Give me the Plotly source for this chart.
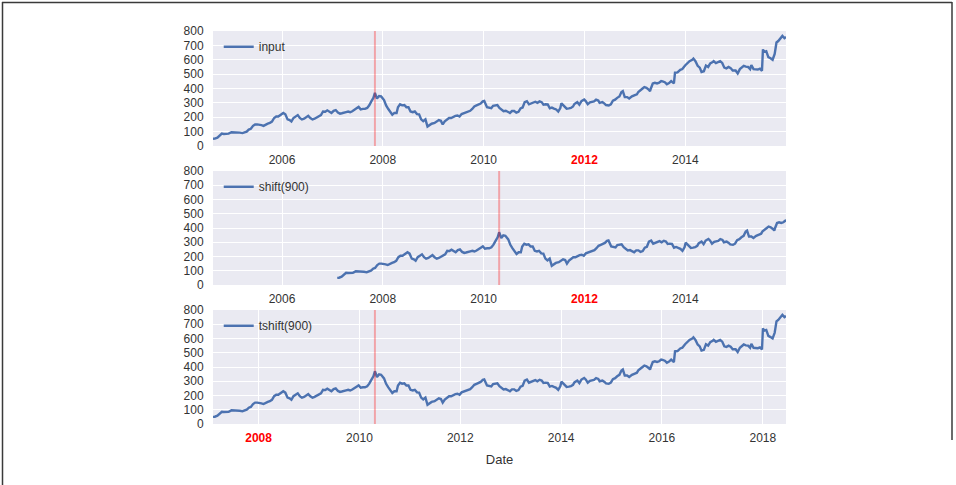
import pandas as pd
import plotly.graph_objects as go

# ---------------- data ----------------
dates = [
    "2004-08-19", "2004-09-01", "2004-09-20", "2004-10-05", "2004-10-22", "2004-11-05", "2004-11-22",
    "2004-12-10", "2004-12-31", "2005-01-15", "2005-02-01", "2005-02-15", "2005-03-01", "2005-03-20",
    "2005-04-05", "2005-04-20", "2005-05-05", "2005-05-20", "2005-06-05", "2005-06-20", "2005-07-05",
    "2005-07-20", "2005-08-05", "2005-08-20", "2005-09-05", "2005-09-20", "2005-10-05", "2005-10-20",
    "2005-11-05", "2005-11-20", "2005-12-05", "2005-12-20", "2006-01-10", "2006-01-25", "2006-02-10",
    "2006-02-25", "2006-03-10", "2006-03-25", "2006-04-10", "2006-04-25", "2006-05-10", "2006-05-25",
    "2006-06-10", "2006-06-25", "2006-07-10", "2006-07-25", "2006-08-10", "2006-08-25", "2006-09-10",
    "2006-09-25", "2006-10-10", "2006-10-25", "2006-11-10", "2006-11-25", "2006-12-10", "2006-12-25",
    "2007-01-10", "2007-01-25", "2007-02-10", "2007-02-25", "2007-03-10", "2007-03-25", "2007-04-10",
    "2007-04-25", "2007-05-10", "2007-05-25", "2007-06-10", "2007-06-25", "2007-07-10", "2007-07-25",
    "2007-08-10", "2007-08-25", "2007-09-10", "2007-09-25", "2007-10-10", "2007-10-25", "2007-11-05",
    "2007-11-20", "2007-12-05", "2007-12-20", "2008-01-10", "2008-01-25", "2008-02-10", "2008-02-25",
    "2008-03-10", "2008-03-25", "2008-04-10", "2008-04-20", "2008-05-05", "2008-05-20", "2008-06-05",
    "2008-06-20", "2008-07-05", "2008-07-20", "2008-08-05", "2008-08-20", "2008-09-05", "2008-09-20",
    "2008-10-05", "2008-10-20", "2008-11-05", "2008-11-20", "2008-12-05", "2008-12-20", "2009-01-10",
    "2009-01-25", "2009-02-10", "2009-02-25", "2009-03-10", "2009-03-25", "2009-04-10", "2009-04-25",
    "2009-05-10", "2009-05-25", "2009-06-10", "2009-06-25", "2009-07-10", "2009-07-25", "2009-08-10",
    "2009-08-25", "2009-09-10", "2009-09-25", "2009-10-10", "2009-10-25", "2009-11-10", "2009-11-25",
    "2009-12-10", "2009-12-25", "2010-01-05", "2010-01-25", "2010-02-10", "2010-02-25", "2010-03-10",
    "2010-03-25", "2010-04-10", "2010-04-25", "2010-05-10", "2010-05-25", "2010-06-10", "2010-06-25",
    "2010-07-10", "2010-07-25", "2010-08-10", "2010-08-25", "2010-09-10", "2010-09-25", "2010-10-10",
    "2010-10-25", "2010-11-10", "2010-11-25", "2010-12-10", "2010-12-25", "2011-01-10", "2011-01-25",
    "2011-02-10", "2011-02-25", "2011-03-10", "2011-03-25", "2011-04-10", "2011-04-25", "2011-05-10",
    "2011-05-25", "2011-06-10", "2011-06-25", "2011-07-10", "2011-07-18", "2011-08-05", "2011-08-15",
    "2011-08-25", "2011-09-10", "2011-09-25", "2011-10-10", "2011-10-20", "2011-11-10", "2011-11-25",
    "2011-12-10", "2011-12-30", "2012-01-10", "2012-01-25", "2012-02-10", "2012-02-25", "2012-03-10",
    "2012-03-25", "2012-04-10", "2012-04-20", "2012-05-10", "2012-05-25", "2012-06-05", "2012-06-25",
    "2012-07-10", "2012-07-25", "2012-08-10", "2012-08-25", "2012-09-10", "2012-09-25", "2012-10-05",
    "2012-10-19", "2012-11-05", "2012-11-20", "2012-12-10", "2012-12-31", "2013-01-15", "2013-01-25",
    "2013-02-10", "2013-02-25", "2013-03-10", "2013-03-25", "2013-04-10", "2013-04-20", "2013-04-26",
    "2013-05-10", "2013-05-25", "2013-06-10", "2013-06-25", "2013-07-10", "2013-07-20", "2013-08-05",
    "2013-08-20", "2013-09-05", "2013-09-20", "2013-10-10", "2013-10-18", "2013-11-05", "2013-11-25",
    "2013-12-10", "2013-12-30", "2014-01-15", "2014-01-31", "2014-02-20", "2014-02-28", "2014-03-15",
    "2014-03-31", "2014-04-15", "2014-04-28", "2014-05-15", "2014-05-30", "2014-06-15", "2014-06-30",
    "2014-07-15", "2014-07-25", "2014-08-10", "2014-08-25", "2014-09-10", "2014-09-25", "2014-10-10",
    "2014-10-25", "2014-11-10", "2014-11-25", "2014-12-10", "2014-12-31", "2015-01-15", "2015-01-31",
    "2015-02-15", "2015-02-28", "2015-03-15", "2015-03-31", "2015-04-15", "2015-04-24", "2015-05-10",
    "2015-05-25", "2015-06-10", "2015-06-25", "2015-07-10", "2015-07-17", "2015-07-25", "2015-08-10",
    "2015-08-25", "2015-09-10", "2015-09-25", "2015-10-10", "2015-10-23", "2015-11-05", "2015-11-20",
    "2015-12-05", "2015-12-20", "2015-12-31",
]
close = [
    50, 51, 58, 69, 86, 84, 84,
    86, 96, 96, 95, 95, 93, 90,
    95, 100, 114, 120, 140, 150, 150,
    150, 145, 140, 145, 155, 160, 170,
    195, 205, 205, 215, 230, 220, 185,
    180, 170, 195, 207, 215, 195, 185,
    190, 200, 210, 195, 185, 190, 200,
    205, 215, 240, 238, 248, 240, 230,
    245, 250, 232, 225, 228, 230, 236,
    240, 235, 242, 250, 262, 272, 255,
    258, 258, 265, 283, 310, 335, 370,
    330, 348, 345, 320, 282, 257, 235,
    218, 230, 230, 270, 290, 283, 285,
    270, 270, 240, 235, 240, 222, 220,
    185, 172, 185, 135, 145, 155, 160,
    170, 180, 175, 150, 172, 185, 195,
    195, 205, 210, 212, 205, 222, 228,
    230, 235, 245, 258, 275, 282, 290,
    295, 310, 313, 270, 266, 263, 280,
    280, 285, 265, 250, 242, 245, 235,
    230, 243, 243, 232, 238, 262, 268,
    305, 312, 290, 296, 301, 308, 300,
    310, 305, 288, 290, 289, 262, 267,
    260, 254, 240, 264, 297, 280, 265,
    260, 262, 265, 275, 292, 305, 287,
    312, 323, 313, 290, 303, 305, 310,
    322, 316, 300, 305, 295, 285, 282,
    290, 315, 322, 335, 345, 375, 382,
    340, 340, 330, 345, 354, 360, 376,
    392, 400, 410, 405, 393, 382, 400,
    435, 440, 435, 440, 452, 450, 444,
    430, 438, 452, 435, 510, 512, 530,
    535, 560, 575, 590, 600, 608, 590,
    558, 545, 515, 520, 560, 550, 575,
    582, 590, 577, 582, 590, 578, 545,
    540, 550, 542, 525, 525, 505, 535,
    548, 558, 552, 550, 535, 563, 535,
    535, 532, 538, 523, 672, 655, 660,
    618, 610, 600, 640, 720, 730, 750,
    766, 750, 758,
]
local_max = "2007-11-05"
shift_days = 900
legend_names = ["input", "shift(900)", "tshift(900)"]
top_tick_years = [2006, 2008, 2010, 2012, 2014]
bottom_tick_years = [2008, 2010, 2012, 2014, 2016, 2018]
highlight_top = 2012
highlight_bottom = 2008
y_ticks = [0, 100, 200, 300, 400, 500, 600, 700, 800]

# ---------------- derived series ----------------
s = pd.Series(close, index=pd.to_datetime(dates))
offset = pd.Timedelta(shift_days, "D")
start, end = s.index[0], s.index[-1]
x_input = s.index
x_shift = s.index + offset            # shift(900): values move later, axis unchanged
x_tshift = s.index + offset           # tshift(900): index moves, axis follows
ranges = [[start, end], [start, end], [start + offset, end + offset]]
vlines = [pd.Timestamp(local_max), pd.Timestamp(local_max) + offset, pd.Timestamp(local_max) + offset]

BLUE = "#4C72B0"
BG = "#EAEAF2"
TXT = "#333333"
FONT = "Liberation Sans, Arial, sans-serif"
FS = 12

H, W = 485, 956
ML, MR, MT, MB = 213, 170, 31, 61
ph = H - MT - MB


def frac(top_px, bot_px):
    return [(H - MB - bot_px) / ph, (H - MB - top_px) / ph]


domains = [frac(31, 146), frac(171, 285), frac(310, 424)]


def tick_text(years, hl):
    out = []
    for y in years:
        if y == hl:
            out.append("<span style='color:red'><b>%d</b></span>" % y)
        else:
            out.append(str(y))
    return out


fig = go.Figure()
xs = [x_input, x_shift, x_tshift]
for i in range(3):
    fig.add_trace(go.Scatter(
        x=xs[i], y=s.values, mode="lines", name=legend_names[i],
        line=dict(color=BLUE, width=2.4),
        xaxis="x" if i == 0 else "x%d" % (i + 1),
        yaxis="y" if i == 0 else "y%d" % (i + 1),
        legend="legend" if i == 0 else "legend%d" % (i + 1),
    ))

layout = dict(
    width=W, height=H,
    margin=dict(l=ML, r=MR, t=MT, b=MB),
    paper_bgcolor="white", plot_bgcolor=BG,
    font=dict(family=FONT, size=FS, color=TXT),
    showlegend=True,
)

for i in range(3):
    sx = "" if i == 0 else str(i + 1)
    years = bottom_tick_years if i == 2 else top_tick_years
    hl = highlight_bottom if i == 2 else highlight_top
    layout["xaxis" + sx] = dict(
        domain=[0, 1], anchor="y" + sx, type="date",
        range=ranges[i],
        tickvals=["%d-01-01" % y for y in years],
        ticktext=tick_text(years, hl),
        showgrid=True, gridcolor="white", gridwidth=1,
        zeroline=False, showline=False,
        ticks="outside", ticklen=3, tickcolor="rgba(0,0,0,0)",
        tickfont=dict(family=FONT, size=FS, color=TXT),
    )
    layout["yaxis" + sx] = dict(
        domain=domains[i], anchor="x" + sx,
        range=[0, 800], tickvals=y_ticks,
        showgrid=True, gridcolor="white", gridwidth=1,
        zeroline=False, showline=False,
        ticks="outside", ticklen=6, tickcolor="rgba(0,0,0,0)",
        tickfont=dict(family=FONT, size=FS, color=TXT),
    )
    lg = "legend" if i == 0 else "legend%d" % (i + 1)
    layout[lg] = dict(
        x=0.01, y=domains[i][1] - 0.003, xanchor="left", yanchor="top",
        bgcolor="rgba(0,0,0,0)", font=dict(family=FONT, size=FS, color=TXT),
    )

layout["xaxis3"]["title"] = dict(text="Date", font=dict(family=FONT, size=13, color=TXT), standoff=10)

shapes = []
for i in range(3):
    sx = "" if i == 0 else str(i + 1)
    shapes.append(dict(
        type="line", xref="x" + sx, yref="y" + sx + " domain",
        x0=vlines[i], x1=vlines[i], y0=0, y1=1,
        line=dict(color="rgba(255,0,0,0.3)", width=2),
    ))


def px_x(p):
    return (p - ML) / (W - ML - MR)


def px_y(p):
    return (H - MB - p) / ph


frame = dict(color="#3a3a3a", width=1.5)
shapes.append(dict(type="line", xref="paper", yref="paper",
                   x0=px_x(2), x1=px_x(952), y0=px_y(2.5), y1=px_y(2.5), line=frame))
shapes.append(dict(type="line", xref="paper", yref="paper",
                   x0=px_x(2.5), x1=px_x(2.5), y0=px_y(2), y1=px_y(485), line=frame))
shapes.append(dict(type="line", xref="paper", yref="paper",
                   x0=px_x(952), x1=px_x(952), y0=px_y(2), y1=px_y(440), line=frame))
layout["shapes"] = shapes

fig.update_layout(**layout)
fig.write_html(
    "out.html",
    config={"displayModeBar": False},
    post_script="document.body.style.margin='0';document.body.style.overflow='hidden';",
)
